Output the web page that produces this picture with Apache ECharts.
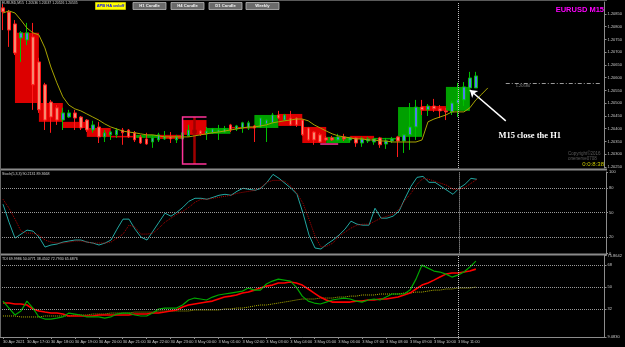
<!DOCTYPE html>
<html>
<head>
<meta charset="utf-8">
<script src="https://cdn.jsdelivr.net/npm/echarts@6/dist/echarts.min.js"></script>
<style>
  html, body { margin: 0; padding: 0; background: #000; }
  #chart { width: 625px; height: 347px; }
</style>
</head>
<body>
<div id="chart"></div>
<script>
// time axis labels, one every 4 M15 bars (index 0, 4, 8 ...)
const timeTicks = ["30 Apr 2021", "30 Apr 17:00", "30 Apr 18:00", "30 Apr 19:00", "30 Apr 20:00",
  "30 Apr 21:00", "30 Apr 22:00", "30 Apr 23:00", "3 May 00:00", "3 May 01:00", "3 May 02:00",
  "3 May 03:00", "3 May 04:00", "3 May 05:00", "3 May 06:00", "3 May 07:00", "3 May 08:00",
  "3 May 09:00", "3 May 10:00", "3 May 11:00"];

const priceTicks = [1.2025, 1.2030, 1.2035, 1.2040, 1.2045, 1.2050, 1.2055, 1.2060, 1.2065, 1.2070, 1.2075, 1.2080, 1.2085];
const stochTicks = [0, 20, 50, 80, 100];
const stochLevels = [20, 50, 80];
const tdiTicks = [9.083, 32, 50, 68, 75.8642];
const tdiLevels = [32, 50, 68];

// M15 candles: [open, close, low, high]
const m15 = [
  [1.20874, 1.20858, 1.20787, 1.20889], [1.20858, 1.20787, 1.20721, 1.20866], [1.20811, 1.20697, 1.20689, 1.20826],
  [1.20756, 1.20776, 1.20662, 1.20783], [1.20748, 1.20776, 1.20728, 1.20815], [1.20760, 1.20572, 1.20474, 1.20815],
  [1.20662, 1.20474, 1.20462, 1.20678], [1.20572, 1.20434, 1.20395, 1.20580], [1.20505, 1.20446, 1.20384, 1.20513],
  [1.20482, 1.20434, 1.20415, 1.20493], [1.20434, 1.20462, 1.20395, 1.20482], [1.20446, 1.20462, 1.20442, 1.20474],
  [1.20462, 1.20442, 1.20395, 1.20474], [1.20446, 1.20403, 1.20395, 1.20450], [1.20434, 1.20395, 1.20387, 1.20438],
  [1.20395, 1.20415, 1.20384, 1.20431], [1.20407, 1.20368, 1.20344, 1.20427], [1.20368, 1.20384, 1.20348, 1.20395],
  [1.20376, 1.20387, 1.20356, 1.20391], [1.20376, 1.20395, 1.20364, 1.20403], [1.20395, 1.20384, 1.20337, 1.20403],
  [1.20395, 1.20368, 1.20364, 1.20399], [1.20384, 1.20356, 1.20348, 1.20391], [1.20368, 1.20344, 1.20340, 1.20376],
  [1.20360, 1.20340, 1.20337, 1.20384], [1.20348, 1.20364, 1.20325, 1.20376], [1.20356, 1.20376, 1.20348, 1.20384],
  [1.20360, 1.20368, 1.20356, 1.20391], [1.20368, 1.20360, 1.20344, 1.20387], [1.20356, 1.20368, 1.20344, 1.20376],
  [1.20360, 1.20384, 1.20356, 1.20384], [1.20372, 1.20395, 1.20368, 1.20415], [1.20391, 1.20387, 1.20262, 1.20446],
  [1.20391, 1.20380, 1.20372, 1.20395], [1.20380, 1.20391, 1.20356, 1.20407], [1.20384, 1.20399, 1.20380, 1.20403],
  [1.20387, 1.20395, 1.20356, 1.20415], [1.20387, 1.20399, 1.20384, 1.20411], [1.20415, 1.20395, 1.20387, 1.20419],
  [1.20399, 1.20411, 1.20391, 1.20415], [1.20403, 1.20423, 1.20384, 1.20427], [1.20403, 1.20423, 1.20395, 1.20431],
  [1.20411, 1.20403, 1.20348, 1.20415], [1.20407, 1.20442, 1.20403, 1.20442], [1.20419, 1.20434, 1.20348, 1.20438],
  [1.20423, 1.20454, 1.20419, 1.20462], [1.20454, 1.20442, 1.20438, 1.20470], [1.20434, 1.20454, 1.20431, 1.20458],
  [1.20442, 1.20415, 1.20411, 1.20470], [1.20442, 1.20415, 1.20407, 1.20446], [1.20434, 1.20376, 1.20372, 1.20438],
  [1.20403, 1.20356, 1.20352, 1.20407], [1.20387, 1.20356, 1.20337, 1.20391], [1.20376, 1.20348, 1.20344, 1.20384],
  [1.20364, 1.20356, 1.20352, 1.20372], [1.20364, 1.20356, 1.20352, 1.20372], [1.20356, 1.20368, 1.20352, 1.20380],
  [1.20368, 1.20360, 1.20352, 1.20380], [1.20356, 1.20364, 1.20348, 1.20368], [1.20364, 1.20344, 1.20329, 1.20368],
  [1.20344, 1.20360, 1.20329, 1.20368], [1.20352, 1.20360, 1.20344, 1.20368], [1.20348, 1.20360, 1.20337, 1.20364],
  [1.20364, 1.20337, 1.20325, 1.20368], [1.20340, 1.20352, 1.20321, 1.20364], [1.20352, 1.20360, 1.20344, 1.20368],
  [1.20368, 1.20352, 1.20289, 1.20372], [1.20352, 1.20376, 1.20305, 1.20380], [1.20376, 1.20407, 1.20317, 1.20501],
  [1.20407, 1.20485, 1.20356, 1.20513], [1.20485, 1.20474, 1.20454, 1.20513], [1.20474, 1.20489, 1.20450, 1.20497],
  [1.20489, 1.20478, 1.20466, 1.20517], [1.20478, 1.20470, 1.20442, 1.20493], [1.20470, 1.20466, 1.20434, 1.20482],
  [1.20466, 1.20501, 1.20454, 1.20509], [1.20501, 1.20513, 1.20446, 1.20580], [1.20513, 1.20564, 1.20489, 1.20583],
  [1.20560, 1.20599, 1.20544, 1.20623], [1.20560, 1.20607, 1.20560, 1.20623]
];
const spikeBar = 32; // weekend open bar, drawn dark red

// H1 candles drawn over 4 M15 bars: [centre bar, open, close]
const h1Boxes = [
  [4, 1.20776, 1.20501], [8, 1.20501, 1.20427], [12, 1.20427, 1.20403], [16, 1.20403, 1.20368],
  [20, 1.20372, 1.20366], [24, 1.20364, 1.20376], [28, 1.20376, 1.20360], [32, 1.20434, 1.20376],
  [36, 1.20380, 1.20403], [40, 1.20407, 1.20403], [44, 1.20403, 1.20454], [48, 1.20458, 1.20411],
  [52, 1.20407, 1.20344], [56, 1.20344, 1.20368], [60, 1.20372, 1.20360], [64, 1.20360, 1.20364],
  [68, 1.20368, 1.20485], [72, 1.20489, 1.20470], [76, 1.20470, 1.20564]
];

// pink markers: [from bar, to bar, top price, bottom price]
const pinkMarks = [[30, 34, 1.20446, 1.20262], [53, 56, 1.20340, 1.20340]];

// shifted moving average (runs 2 bars past the last candle)
const maLine = [
  1.20854, 1.20862, 1.20854, 1.20826, 1.20795, 1.20776, 1.20768, 1.20717, 1.20642, 1.20580,
  1.20525, 1.20493, 1.20478, 1.20470, 1.20458, 1.20446, 1.20434, 1.20419, 1.20407, 1.20399,
  1.20391, 1.20387, 1.20384, 1.20380, 1.20376, 1.20376, 1.20372, 1.20368, 1.20368, 1.20368,
  1.20368, 1.20368, 1.20372, 1.20376, 1.20380, 1.20384, 1.20387, 1.20391, 1.20395, 1.20399,
  1.20403, 1.20407, 1.20407, 1.20411, 1.20415, 1.20423, 1.20427, 1.20431, 1.20434, 1.20438,
  1.20438, 1.20431, 1.20415, 1.20403, 1.20391, 1.20380, 1.20372, 1.20368, 1.20364, 1.20360,
  1.20360, 1.20356, 1.20356, 1.20352, 1.20352, 1.20348, 1.20348, 1.20348, 1.20348, 1.20348,
  1.20356, 1.20427, 1.20438, 1.20446, 1.20454, 1.20466, 1.20466, 1.20466, 1.20482, 1.20513,
  1.20536, 1.20560
];

const stochMain = [
  60.4, 38.4, 18.8, 23.7, 28.6, 27.4, 20.0, 7.8, 10.3, 11.5,
  13.9, 15.2, 16.4, 16.4, 13.9, 12.7, 10.3, 12.7, 16.4, 29.8,
  42.1, 42.1, 29.8, 20.0, 16.4, 27.4, 38.4, 49.4, 45.7, 50.6,
  56.7, 64.1, 67.7, 67.7, 66.5, 68.9, 71.4, 72.6, 71.4, 76.3,
  80.0, 78.7, 77.5, 80.0, 87.3, 97.1, 92.2, 86.1, 80.0, 72.6,
  49.4, 22.5, 6.6, 5.4, 11.5, 16.4, 22.5, 29.8, 39.6, 35.9,
  34.7, 34.7, 55.5, 43.3, 43.3, 45.7, 51.8, 67.7, 82.4, 93.4,
  94.6, 87.3, 87.3, 82.4, 77.5, 72.6, 80.0, 84.9, 92.2, 91.0
];
const stochSignal = [
  66.5, 55.5, 42.1, 27.4, 24.9, 24.9, 22.5, 16.4, 13.9, 12.7,
  12.7, 13.9, 15.2, 15.2, 13.9, 12.7, 12.7, 12.7, 13.9, 18.8,
  23.7, 34.7, 32.3, 23.7, 23.7, 24.9, 31.1, 38.4, 43.3, 48.2,
  51.8, 56.7, 62.8, 66.5, 66.5, 67.7, 68.9, 70.2, 71.4, 73.8,
  75.1, 76.3, 77.5, 81.2, 87.3, 89.7, 89.7, 88.5, 82.4, 73.8,
  61.6, 42.1, 21.3, 7.8, 9.0, 12.7, 21.3, 26.2, 31.1, 34.7,
  35.9, 35.9, 39.6, 43.3, 45.7, 48.2, 54.3, 65.3, 73.8, 84.8,
  92.2, 91.0, 88.5, 86.1, 83.6, 78.7, 78.7, 81.2, 86.1, 91.0
];

const tdiPrice = [
  38.5, 32.8, 27.1, 30.4, 38.5, 32.8, 25.5, 23.8, 23.8, 24.6,
  25.5, 28.7, 27.9, 27.1, 25.5, 25.5, 25.5, 24.6, 25.5, 27.9,
  28.7, 28.7, 27.1, 26.3, 26.3, 28.7, 32.0, 32.8, 32.8, 32.8,
  35.3, 39.4, 41.0, 40.2, 39.4, 41.8, 43.5, 44.3, 45.1, 45.9,
  46.7, 49.2, 47.5, 47.5, 52.5, 54.9, 56.5, 55.7, 54.9, 50.0,
  42.6, 38.5, 36.9, 36.1, 37.7, 39.4, 40.2, 41.0, 40.2, 38.5,
  37.7, 39.4, 40.2, 39.4, 41.8, 44.3, 44.3, 44.3, 47.5, 56.5,
  68.0, 65.5, 63.1, 62.3, 60.6, 58.2, 59.8, 62.3, 66.4, 71.3
];
const tdiSignal = [
  36.9, 36.9, 36.1, 36.1, 35.3, 32.0, 30.4, 29.5, 28.7, 28.7,
  27.9, 26.3, 26.3, 26.3, 26.3, 26.3, 27.1, 27.1, 27.1, 27.1,
  27.1, 27.1, 27.9, 27.9, 27.9, 28.7, 28.7, 29.5, 30.4, 31.2,
  33.6, 35.3, 36.1, 36.9, 37.7, 38.5, 40.2, 41.8, 42.6, 43.5,
  45.1, 45.9, 47.5, 49.2, 50.8, 51.6, 53.3, 53.3, 54.1, 53.3,
  51.6, 48.4, 45.1, 41.8, 39.4, 37.7, 37.7, 37.7, 37.7, 38.5,
  38.5, 39.4, 39.4, 40.2, 40.2, 41.0, 41.8, 43.5, 45.1, 48.4,
  51.6, 53.3, 55.7, 58.2, 60.6, 61.5, 61.5, 62.3, 63.1, 64.7
];
const tdiBase = [
  26.3, 26.3, 26.3, 25.5, 25.5, 25.5, 25.5, 26.3, 26.3, 26.3,
  26.3, 26.3, 27.1, 27.1, 27.1, 27.9, 27.9, 27.9, 28.7, 28.7,
  28.7, 28.7, 29.5, 29.5, 29.5, 29.5, 30.4, 30.4, 30.4, 30.4,
  30.4, 30.4, 31.2, 31.2, 31.2, 31.2, 31.2, 32.0, 32.0, 32.8,
  32.8, 33.6, 34.5, 35.3, 35.3, 36.1, 36.9, 37.7, 38.5, 39.4,
  40.2, 40.2, 40.2, 41.0, 41.0, 41.0, 41.8, 41.8, 42.6, 42.6,
  43.5, 43.5, 43.5, 44.3, 44.3, 44.3, 44.3, 45.1, 45.1, 45.9,
  45.9, 46.7, 47.5, 47.5, 48.4, 48.4, 49.2, 49.2, 49.2, 50.0
];

const cursorBar = 76;
const pendingLevel = 1.20580;

const FONT = '"Liberation Sans", "DejaVu Sans", sans-serif';
const slots = Array.from({ length: 101 }, (_, i) => i);
const lastClose = m15[m15.length - 1][1];

const chart = echarts.init(document.getElementById("chart"));

function tickAt(i) {
  return i % 4 === 0 && i / 4 < timeTicks.length;
}

function xAxisFor(gridIndex, showLabels) {
  return {
    gridIndex,
    type: "category",
    data: slots,
    boundaryGap: true,
    axisLine: { show: showLabels, lineStyle: { color: "#8c8c8c" } },
    axisTick: { show: showLabels, alignWithLabel: true, interval: tickAt, length: 2, lineStyle: { color: "#8c8c8c" } },
    axisLabel: {
      show: showLabels,
      interval: tickAt,
      formatter: (v, i) => timeTicks[i / 4],
      align: "left",
      color: "#c8c8c8",
      fontSize: 4,
      fontFamily: FONT,
      margin: 3,
    },
    splitLine: { show: false },
  };
}

function yAxisFor(gridIndex, min, max, ticks, fmt) {
  return {
    gridIndex,
    type: "value",
    position: "right",
    min,
    max,
    splitLine: { show: false },
    axisLine: { show: true, lineStyle: { color: "#8c8c8c", width: 1 } },
    axisTick: { show: true, length: 2, customValues: ticks, lineStyle: { color: "#8c8c8c" } },
    axisLabel: { customValues: ticks, formatter: fmt, color: "#c8c8c8", fontSize: 4, fontFamily: FONT, margin: 3 },
  };
}

function levelLines(levels) {
  const dotted = { type: "dotted", color: "#9a9a9a", width: 1 };
  return {
    silent: true,
    symbol: "none",
    label: { show: false },
    lineStyle: dotted,
    data: levels.map((v) => ({ yAxis: v })).concat([{ xAxis: cursorBar, lineStyle: { type: "dotted", color: "#c0c0c0" } }]),
  };
}

function renderBox(params, api) {
  const idx = api.value(0);
  const o = api.value(1);
  const c = api.value(2);
  const a = api.coord([idx - 2, o]);
  const b = api.coord([idx + 2, c]);
  const h = Math.max(Math.abs(a[1] - b[1]), 1.5);
  return {
    type: "rect",
    shape: { x: a[0], y: Math.min(a[1], b[1]), width: b[0] - a[0], height: h },
    style: { fill: c > o ? "#00a000" : "#dc0000" },
  };
}

function renderPink(params, api) {
  const a = api.coord([api.value(0), api.value(2)]);
  const b = api.coord([api.value(1), api.value(3)]);
  const pts = api.value(2) === api.value(3)
    ? [[a[0], a[1]], [b[0], a[1]]]
    : [[b[0], a[1]], [a[0], a[1]], [a[0], b[1]], [b[0], b[1]]];
  return { type: "polyline", shape: { points: pts }, style: { stroke: "#ff3399", lineWidth: 1.5, fill: null } };
}

const candleData = m15.map((v, i) =>
  i === spikeBar ? { value: v, itemStyle: { color0: "#a00000", borderColor0: "#a00000", borderWidth: 2.5 } } : v
);

function button(label, x, w, fill, stroke, textColor, size) {
  return {
    type: "group",
    children: [
      { type: "rect", shape: { x, y: 2.5, width: w, height: 7 }, style: { fill, stroke, lineWidth: 0.8 } },
      {
        type: "text",
        x: x + w / 2,
        y: 6,
        style: { text: label, fill: textColor, font: "bold " + size + "px " + FONT, textAlign: "center", textVerticalAlign: "middle" },
      },
    ],
  };
}

function smallText(text, x, y, fill, font, align) {
  return { type: "text", x, y, style: { text, fill, font, textAlign: align || "left", textVerticalAlign: "top" } };
}

const graphics = [
  { type: "rect", shape: { x: 0, y: 0, width: 607, height: 1 }, style: { fill: "#5a5a5a" }, z: 100 },
  { type: "rect", shape: { x: 0, y: 168.5, width: 607, height: 2 }, style: { fill: "#8a8a8a" }, z: 100 },
  { type: "rect", shape: { x: 0, y: 253.6, width: 607, height: 2 }, style: { fill: "#8a8a8a" }, z: 100 },
  { type: "rect", shape: { x: 0, y: 0, width: 1, height: 337 }, style: { fill: "#6a6a6a" }, z: 100 },
  smallText("EURUSD,M15  1.20536 1.20537 1.20526 1.20535", 2, 2, "#d8d8d8", "3.4px " + FONT),
  button("APB HA on/off", 95.5, 30, "#ffff00", "#d0d000", "#0000ff", 4),
  button("H1 Candle", 133, 33, "#6a6a6a", "#b8b8b8", "#f0f0f0", 4.2),
  button("H4 Candle", 171, 33, "#6a6a6a", "#b8b8b8", "#f0f0f0", 4.2),
  button("D1 Candle", 209, 33, "#6a6a6a", "#b8b8b8", "#f0f0f0", 4.2),
  button("Weekly", 246, 33, "#6a6a6a", "#b8b8b8", "#f0f0f0", 4.2),
  smallText("EURUSD M15", 604, 6, "#ff00ff", "bold 7.5px " + FONT, "right"),
  smallText("Copyright\u00a92016", 568, 151, "#5c5c5c", "4.5px " + FONT),
  smallText("onenerve0708", 568, 156, "#5c5c5c", "4.5px " + FONT),
  smallText("0:0:8:38", 604, 161.5, "#c8c800", "6px " + FONT, "right"),
  smallText("Stoch(5,3,3) 90.2131 89.3668", 2, 172, "#d8d8d8", "3.6px " + FONT),
  smallText("TDI 69.9986 50.0771 38.4502 72.7930 65.6876", 2, 257, "#d8d8d8", "3.6px " + FONT),
];

chart.setOption({
  backgroundColor: "#000",
  animation: false,
  grid: [
    { left: -2, right: 19, top: 2, height: 166 },
    { left: -2, right: 19, top: 172, height: 81.4 },
    { left: -2, right: 19, top: 255.5, height: 81.5 },
  ],
  xAxis: [xAxisFor(0, false), xAxisFor(1, false), xAxisFor(2, true)],
  yAxis: [
    yAxisFor(0, 1.20246, 1.20897, priceTicks, (v) => v.toFixed(5)),
    yAxisFor(1, 0, 100, stochTicks, (v) => String(v)),
    yAxisFor(2, 9.083, 75.8642, tdiTicks, (v) => (Number.isInteger(v) ? String(v) : v.toFixed(4))),
  ],
  graphic: graphics,
  series: [
    {
      type: "custom",
      name: "H1",
      xAxisIndex: 0,
      yAxisIndex: 0,
      renderItem: renderBox,
      encode: { x: 0, y: [1, 2] },
      data: h1Boxes,
      silent: true,
      z: 1,
    },
    {
      type: "candlestick",
      name: "M15",
      xAxisIndex: 0,
      yAxisIndex: 0,
      barWidth: 3,
      data: candleData,
      itemStyle: { color: "#4f7fe8", color0: "#f58a70", borderColor: "#00c000", borderColor0: "#ff1a1a", borderWidth: 1 },
      z: 2,
      markLine: {
        silent: true,
        symbol: ["none", "arrow"],
        symbolSize: 7,
        label: { show: false },
        lineStyle: { color: "#ffffff", width: 1.5, type: "solid" },
        data: [[{ coord: [84, 1.20431] }, { coord: [78, 1.20552] }]],
      },
      markPoint: {
        silent: true,
        symbolSize: 0,
        label: {
          show: true,
          position: "inside",
          formatter: "M15 close the H1",
          color: "#ffffff",
          fontFamily: '"Liberation Serif", "DejaVu Serif", serif',
          fontWeight: "bold",
          fontSize: 8.5,
        },
        data: [{ coord: [88, 1.20374] }],
      },
    },
    {
      type: "custom",
      name: "marks",
      xAxisIndex: 0,
      yAxisIndex: 0,
      renderItem: renderPink,
      encode: { x: [0, 1], y: [2, 3] },
      data: pinkMarks,
      silent: true,
      z: 3,
    },
    {
      type: "line",
      name: "MA",
      xAxisIndex: 0,
      yAxisIndex: 0,
      data: maLine,
      symbol: "none",
      lineStyle: { color: "#a8a400", width: 1 },
      z: 4,
      markLine: {
        silent: true,
        symbol: "none",
        data: [
          {
            yAxis: lastClose,
            lineStyle: { color: "#3c3c3c", type: "solid", width: 1 },
            label: {
              show: true,
              position: "end",
              formatter: lastClose.toFixed(5),
              backgroundColor: "#ffffff",
              color: "#000000",
              fontSize: 4.5,
              fontFamily: FONT,
              padding: [1, 2],
              distance: 3,
            },
          },
          [
            {
              coord: [84, pendingLevel],
              lineStyle: { color: "#9a9a9a", type: [4, 2, 1, 2], width: 1 },
              label: {
                show: true,
                position: "insideStartBottom",
                formatter: pendingLevel.toFixed(5),
                color: "#8a8a8a",
                fontSize: 4,
                fontFamily: FONT,
                distance: [10, 1],
              },
            },
            { coord: [100, pendingLevel] },
          ],
          { xAxis: cursorBar, lineStyle: { type: "dotted", color: "#c0c0c0", width: 1 }, label: { show: false } },
        ],
      },
    },
    {
      type: "line",
      name: "Stoch",
      xAxisIndex: 1,
      yAxisIndex: 1,
      data: stochMain,
      symbol: "none",
      lineStyle: { color: "#22a8a2", width: 1 },
      markLine: levelLines(stochLevels),
    },
    {
      type: "line",
      name: "Signal",
      xAxisIndex: 1,
      yAxisIndex: 1,
      data: stochSignal,
      symbol: "none",
      lineStyle: { color: "#b00000", width: 1, type: "dotted" },
    },
    {
      type: "line",
      name: "Base",
      xAxisIndex: 2,
      yAxisIndex: 2,
      data: tdiBase,
      symbol: "none",
      lineStyle: { color: "#b4b400", width: 1, type: "dotted" },
      markLine: levelLines(tdiLevels),
    },
    {
      type: "line",
      name: "TDI signal",
      xAxisIndex: 2,
      yAxisIndex: 2,
      data: tdiSignal,
      symbol: "none",
      lineStyle: { color: "#ff0000", width: 1.6 },
    },
    {
      type: "line",
      name: "TDI price",
      xAxisIndex: 2,
      yAxisIndex: 2,
      data: tdiPrice,
      symbol: "none",
      lineStyle: { color: "#00a800", width: 1.2 },
    },
  ],
});
</script>
</body>
</html>
